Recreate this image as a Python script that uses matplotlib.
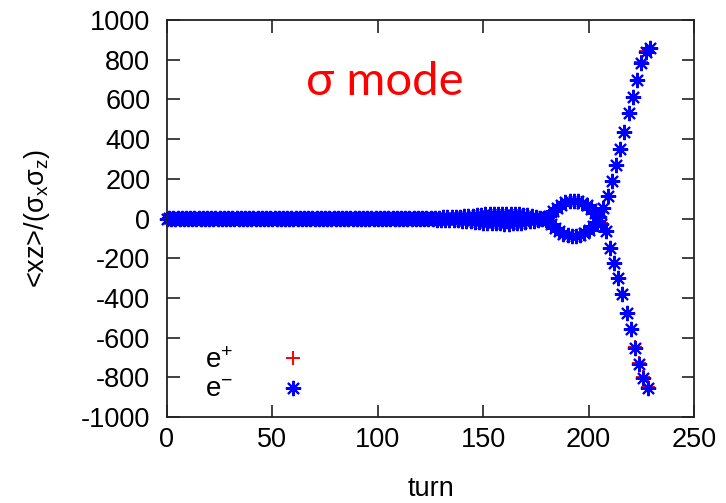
import matplotlib
matplotlib.use("Agg")
import matplotlib.pyplot as plt
import numpy as np

plt.rcParams['font.family'] = ['Liberation Sans', 'DejaVu Sans']
plt.rcParams['mathtext.fontset'] = 'custom'
plt.rcParams['mathtext.rm'] = 'Liberation Sans'
plt.rcParams['mathtext.it'] = 'Liberation Sans'
plt.rcParams['axes.unicode_minus'] = False

# <xz>/(sigma_x sigma_z) per turn (both beams overlap up to turn 199)
xz_head = [
    -2, 2, -3, 2, -2, 3, -2, 2, -3, 2,
    -2, 3, -2, 2, -3, 2, -2, 3, -2, 2,
    -3, 2, -2, 3, -2, 2, -3, 2, -2, 3,
    -2, 2, -3, 2, -2, 3, -2, 2, -3, 2,
    -2, 3, -2, 2, -3, 2, -2, 3, -2, 2,
    -3, 2, -2, 3, -2, 2, -3, 2, -2, 3,
    -2, 2, -3, 2, -2, 3, -2, 2, -3, 2,
    -2, 3, -2, 2, -3, 2, -2, 3, -2, 2,
    -3, 2, -2, 3, -2, 2, -3, 2, -2, 3,
    -2, 3, -3, 2, -3, 3, -2, 3, -3, 3,
    -3, 3, -3, 3, -3, 3, -3, 3, -3, 3,
    -3, 3, -3, 3, -3, 3, -3, 3, -3, 3,
    -3, 3, -3, 4, -4, 4, -4, 5, -5, 5,
    -5, 6, -6, 6, -7, 7, -7, 8, -8, 9,
    -10, 11, -12, 13, -14, 15, -16, 17, -18, 19,
    -20, 21, -22, 22, -23, 23, -24, 24, -24, 25,
    -25, 25, -25, 25, -24, 24, -23, 22, -21, 20,
    -18, 16, -14, 12, -10, 8, -6, 4, -3, 4,
    -5, 15, -25, 36, -46, 55, -63, 70, -76, 81,
    -84, 86, -87, 87, -87, 86, -84, 80, -75, 68,
]
e_minus_tail = [
    -59, 49, -38, 27, -17, 10, -25, 55, -61, 116,
    -146, 187, -222, 272, -298, 353, -379, 434, -475, 530,
    -556, 611, -652, 697, -732, 783, -803, 838, -854, 859,
]
e_plus_tail = [
    -58, 48, -37, 28, -18, 11, -24, 52, -64, 112,
    -150, 183, -226, 268, -302, 349, -384, 430, -480, 525,
    -560, 615, -648, 700, -728, 787, -800, 842, -850, 862,
]

e_minus = xz_head + e_minus_tail
e_plus = xz_head + e_plus_tail
turns = np.arange(len(e_minus))

fig = plt.figure(figsize=(7.26, 5.03), dpi=100)
ax = fig.add_axes([0.230, 0.171, 0.726, 0.789])

ax.plot(turns, e_plus, linestyle='none', marker='+', color='#ff0000',
        markersize=10, markeredgewidth=1.4, clip_on=False, label=r'e$^{+}$')
ax.plot(turns, e_minus, linestyle='none', marker=(8, 2, 0), color='#0000ff',
        markersize=11, markeredgewidth=1.5, clip_on=False,
        label=r'e$^{\mathregular{-}}$')

ax.set_xlim(0, 250)
ax.set_ylim(-1000, 1000)
ax.set_xticks(np.arange(0, 251, 50))
ax.set_yticks(np.arange(-1000, 1001, 200))

ax.tick_params(direction='in', length=9, width=1.3, color='#333333',
               top=True, right=True, labelsize=19.5)
ax.tick_params(axis='y', pad=12)
ax.tick_params(axis='x', pad=7)
for s in ax.spines.values():
    s.set_color('#222222')
    s.set_linewidth(1.3)

ax.set_xlabel('turn', fontsize=19.5, labelpad=17)
ax.set_ylabel(r'<xz>/(σ$_{\mathregular{x}}$σ$_{\mathregular{z}}$)', fontsize=19.5, labelpad=21)

ax.text(0.414, 0.844, 'σ mode', transform=ax.transAxes, color='#ff0000',
        fontsize=34, family=['Lato', 'DejaVu Sans'], ha='center', va='center')

ax.legend(loc='lower left', bbox_to_anchor=(0.035, -0.015), frameon=False,
          markerfirst=False, numpoints=1, handlelength=1.0, handletextpad=1.65,
          labelspacing=0.12, fontsize=20, borderaxespad=0.3)

fig.savefig('out.png', dpi=100)
